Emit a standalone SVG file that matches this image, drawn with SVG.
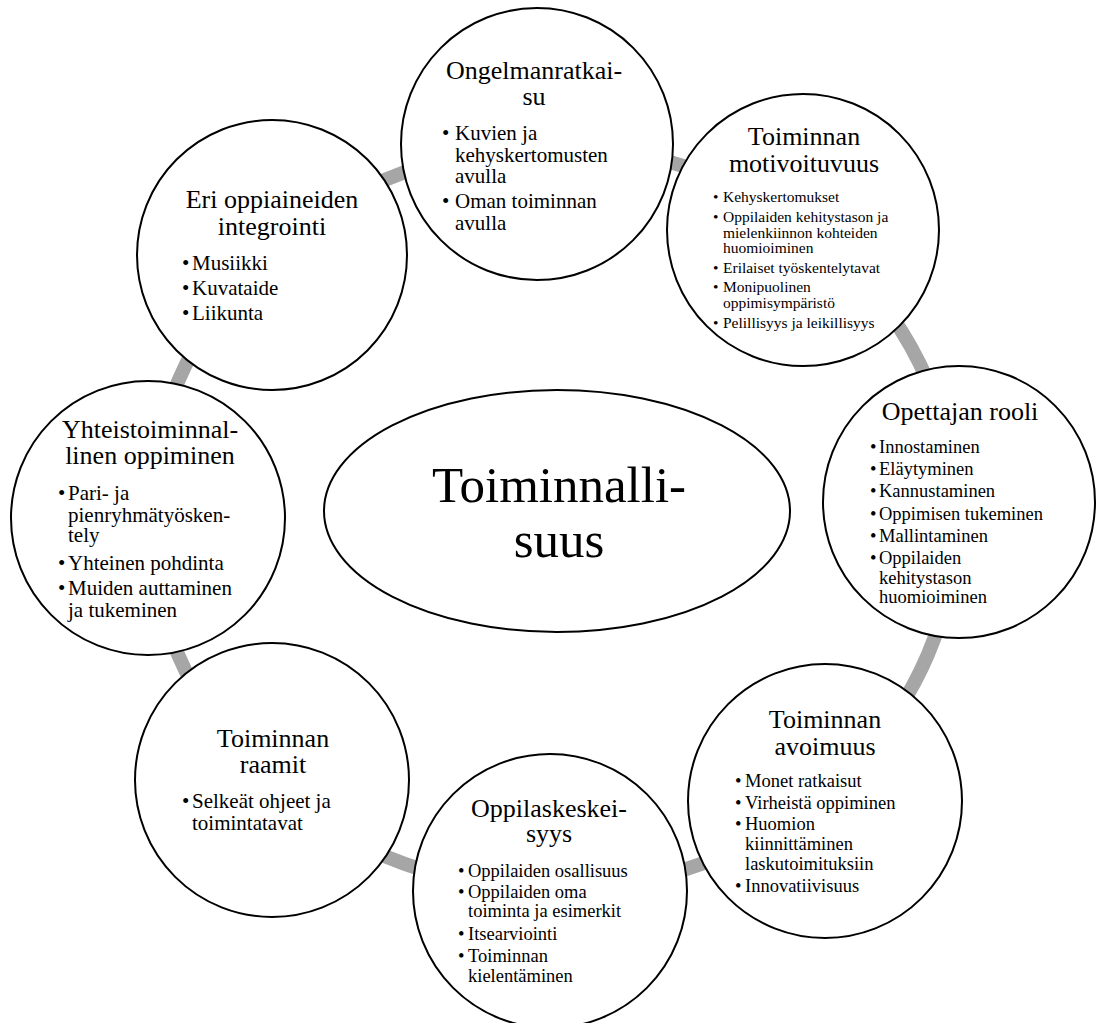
<svg xmlns="http://www.w3.org/2000/svg" width="1098" height="1023" viewBox="0 0 1098 1023">
<style>
.node{fill:#fff;stroke:#000;stroke-width:2}
.ring{fill:none;stroke:#a6a6a6;stroke-width:14}
text{font-family:"Liberation Serif","Times New Roman",serif;fill:#000}
.t{font-size:26px;text-anchor:middle}
.b21{font-size:21px}
.b18{font-size:18.5px}
.b15{font-size:15.5px}
.c{font-size:51px;text-anchor:middle}
</style>
<rect width="1098" height="1023" fill="#fff"/>
<g id="connectors">
<ellipse class="ring" cx="553" cy="518" rx="403" ry="372"/>
</g>
<g id="node-ongelmanratkaisu">
<circle class="node" cx="537" cy="144" r="136"/>
<text class="t" x="534" y="79">Ongelmanratkai-</text>
<text class="t" x="534" y="105">su</text>
<g class="b21">
<text x="442" y="140">•</text><text x="455" y="140">Kuvien ja</text>
<text x="455" y="162">kehyskertomusten</text>
<text x="455" y="183">avulla</text>
<text x="442" y="208">•</text><text x="455" y="208">Oman toiminnan</text>
<text x="455" y="230">avulla</text>
</g>
</g>
<g id="node-motivoituvuus">
<circle class="node" cx="803" cy="230" r="136"/>
<text class="t" x="804" y="145">Toiminnan</text>
<text class="t" x="804" y="172">motivoituvuus</text>
<g class="b15">
<text x="713" y="202">•</text><text x="723" y="202">Kehyskertomukset</text>
<text x="713" y="222">•</text><text x="723" y="222">Oppilaiden kehitystason ja</text>
<text x="723" y="237.5">mielenkiinnon kohteiden</text>
<text x="723" y="253">huomioiminen</text>
<text x="713" y="273">•</text><text x="723" y="273">Erilaiset työskentelytavat</text>
<text x="713" y="292">•</text><text x="723" y="292">Monipuolinen</text>
<text x="723" y="307.5">oppimisympäristö</text>
<text x="713" y="328">•</text><text x="723" y="328">Pelillisyys ja leikillisyys</text>
</g>
</g>
<g id="node-opettajan-rooli">
<circle class="node" cx="959" cy="502" r="136"/>
<text class="t" x="960" y="420">Opettajan rooli</text>
<g class="b18">
<text x="870" y="453">•</text><text x="879" y="453">Innostaminen</text>
<text x="870" y="475">•</text><text x="879" y="475">Eläytyminen</text>
<text x="870" y="497">•</text><text x="879" y="497">Kannustaminen</text>
<text x="870" y="519.5">•</text><text x="879" y="519.5">Oppimisen tukeminen</text>
<text x="870" y="542">•</text><text x="879" y="542">Mallintaminen</text>
<text x="870" y="564">•</text><text x="879" y="564">Oppilaiden</text>
<text x="879" y="583.5">kehitystason</text>
<text x="879" y="603">huomioiminen</text>
</g>
</g>
<g id="node-avoimuus">
<circle class="node" cx="825" cy="801" r="137"/>
<text class="t" x="825" y="728">Toiminnan</text>
<text class="t" x="825" y="755">avoimuus</text>
<g class="b18">
<text x="735" y="787">•</text><text x="745" y="787">Monet ratkaisut</text>
<text x="735" y="809">•</text><text x="745" y="809">Virheistä oppiminen</text>
<text x="735" y="830">•</text><text x="745" y="830">Huomion</text>
<text x="745" y="850">kiinnittäminen</text>
<text x="745" y="870">laskutoimituksiin</text>
<text x="735" y="892">•</text><text x="745" y="892">Innovatiivisuus</text>
</g>
</g>
<g id="node-oppilaskeskeisyys">
<circle class="node" cx="550" cy="891" r="137"/>
<text class="t" x="549" y="817">Oppilaskeskei-</text>
<text class="t" x="549" y="842">syys</text>
<g class="b18">
<text x="458" y="877">•</text><text x="468" y="877">Oppilaiden osallisuus</text>
<text x="458" y="898">•</text><text x="468" y="898">Oppilaiden oma</text>
<text x="468" y="917">toiminta ja esimerkit</text>
<text x="458" y="940">•</text><text x="468" y="940">Itsearviointi</text>
<text x="458" y="962">•</text><text x="468" y="962">Toiminnan</text>
<text x="468" y="982">kielentäminen</text>
</g>
</g>
<g id="node-raamit">
<circle class="node" cx="272" cy="780" r="137"/>
<text class="t" x="273" y="747">Toiminnan</text>
<text class="t" x="273" y="773">raamit</text>
<g class="b21">
<text x="182" y="808">•</text><text x="192" y="808">Selkeät ohjeet ja</text>
<text x="192" y="830">toimintatavat</text>
</g>
</g>
<g id="node-yhteistoiminnallinen">
<circle class="node" cx="148" cy="518" r="137"/>
<text class="t" x="150" y="438">Yhteistoiminnal-</text>
<text class="t" x="150" y="464">linen oppiminen</text>
<g class="b21">
<text x="58" y="500">•</text><text x="68" y="500">Pari- ja</text>
<text x="68" y="522">pienryhmätyösken-</text>
<text x="68" y="542">tely</text>
<text x="58" y="570">•</text><text x="68" y="570">Yhteinen pohdinta</text>
<text x="58" y="595">•</text><text x="68" y="595">Muiden auttaminen</text>
<text x="68" y="617">ja tukeminen</text>
</g>
</g>
<g id="node-integrointi">
<circle class="node" cx="272" cy="255" r="135"/>
<text class="t" x="272" y="208">Eri oppiaineiden</text>
<text class="t" x="272" y="235">integrointi</text>
<g class="b21">
<text x="182" y="270">•</text><text x="192" y="270">Musiikki</text>
<text x="182" y="295">•</text><text x="192" y="295">Kuvataide</text>
<text x="182" y="320">•</text><text x="192" y="320">Liikunta</text>
</g>
</g>
<g id="node-toiminnallisuus">
<ellipse class="node" cx="557" cy="511" rx="233" ry="121"/>
<text class="c" x="559" y="502">Toiminnalli-</text>
<text class="c" x="559" y="557">suus</text>
</g>
</svg>
